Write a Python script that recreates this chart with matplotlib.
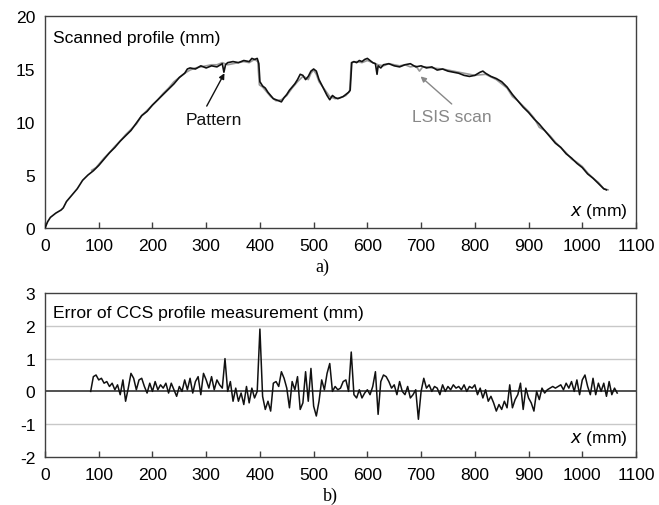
import matplotlib
matplotlib.use("Agg")
import matplotlib.pyplot as plt
import numpy as np

plt.rcParams['font.family'] = ['Liberation Sans', 'DejaVu Sans']

# Pattern profile (black)
pattern_x = [0, 5, 10, 20, 30, 34, 40, 50, 60, 70, 80, 90, 100, 110, 120, 130, 140, 150, 160, 170,
             180, 190, 200, 210, 220, 230, 240, 250, 260, 265, 270, 280, 290, 300, 310, 320, 330, 333,
             336, 340, 350, 360, 370, 380, 385, 390, 395, 398, 400, 405, 410, 415, 420, 425, 430, 435,
             440, 445, 450, 455, 460, 465, 470, 475, 480, 485, 490, 495, 500, 505, 510, 515, 520, 525,
             530, 535, 540, 545, 550, 555, 560, 565, 568, 571, 575, 580, 585, 590, 595, 600, 605, 610,
             615, 618, 620, 625, 630, 640, 650, 660, 670, 680, 690, 700, 710, 720, 730, 740, 750, 760,
             770, 780, 790, 800, 810, 815, 820, 830, 840, 850, 860, 870, 880, 890, 900, 910, 920, 930,
             940, 950, 960, 970, 980, 990, 1000, 1010, 1020, 1030, 1040, 1045]
pattern_y = [0.0, 0.6, 1.0, 1.4, 1.7, 1.9, 2.5, 3.1, 3.7, 4.5, 5.0, 5.4, 5.9, 6.5, 7.1, 7.6, 8.2, 8.7, 9.2, 9.9,
             10.6, 11.0, 11.6, 12.1, 12.6, 13.1, 13.6, 14.2, 14.6, 15.0, 15.1, 15.0, 15.3, 15.1, 15.3, 15.2, 15.5, 14.7,
             15.4, 15.6, 15.7, 15.6, 15.8, 15.7, 16.0, 15.9, 16.0, 15.5, 13.8, 13.4, 13.2, 12.8, 12.5, 12.2, 12.1, 12.0,
             11.9, 12.3, 12.6, 13.0, 13.3, 13.6, 14.0, 14.5, 14.4, 14.0, 14.3, 14.8, 15.0, 14.8, 14.0, 13.5, 13.0, 12.5,
             12.1, 12.5, 12.3, 12.2, 12.3, 12.4, 12.6, 12.8, 13.0, 15.6, 15.7, 15.6, 15.8, 15.7, 15.9, 16.0, 15.8, 15.6,
             15.5, 14.5, 15.3, 15.1, 15.4, 15.5, 15.3, 15.2, 15.4, 15.5, 15.2, 15.3, 15.1, 15.2, 14.9, 15.0, 14.8, 14.7,
             14.6, 14.4, 14.3, 14.4, 14.7, 14.8, 14.6, 14.3, 14.1, 13.8, 13.3, 12.6, 12.0, 11.4, 10.9, 10.3, 9.8, 9.2,
             8.6, 8.0, 7.6, 7.0, 6.6, 6.1, 5.7, 5.1, 4.7, 4.2, 3.7, 3.6]

# LSIS scan (grey)
lsis_x = [87, 95, 100, 110, 120, 130, 140, 150, 160, 170, 180, 190, 200, 210, 220, 230, 240, 250, 260, 270,
          280, 290, 300, 310, 320, 330, 340, 350, 360, 370, 380, 390, 396, 399, 405, 410, 420, 430, 440, 450,
          460, 470, 480, 485, 490, 495, 500, 505, 510, 520, 530, 540, 550, 560, 567, 570, 580, 590, 600, 610,
          620, 630, 640, 650, 660, 670, 680, 690, 697, 703, 710, 720, 740, 760, 780, 800, 820, 840, 860, 870,
          880, 890, 900, 910, 920, 930, 940, 950, 960, 970, 980, 990, 1000, 1010, 1020, 1030, 1040, 1048]
lsis_y = [5.45, 5.7, 6.0, 6.6, 7.1, 7.7, 8.2, 8.8, 9.3, 9.8, 10.6, 11.1, 11.6, 12.1, 12.7, 13.2, 13.8, 14.2, 14.6, 14.9,
          15.1, 15.2, 15.3, 15.4, 15.4, 15.6, 15.4, 15.5, 15.6, 15.7, 15.6, 15.9, 15.7, 13.5, 13.3, 13.0, 12.4, 12.0, 12.1, 12.5,
          13.2, 13.8, 14.3, 14.2, 14.0, 14.6, 14.9, 14.5, 13.8, 13.1, 12.4, 12.2, 12.3, 12.5, 12.9, 15.6, 15.7, 15.6, 15.8, 15.6,
          15.4, 15.3, 15.5, 15.4, 15.3, 15.4, 15.2, 15.3, 14.8, 15.2, 15.2, 15.1, 15.0, 14.8, 14.6, 14.4, 14.5, 14.0, 13.2, 12.4,
          12.0, 11.5, 11.0, 10.4, 9.5, 9.2, 8.7, 8.1, 7.6, 7.1, 6.5, 6.2, 5.8, 5.2, 4.7, 4.3, 3.7, 3.6]

# Error of CCS profile measurement (every 5 mm from 85 to 1065)
error_x = list(range(85, 1066, 5))
error_y = [0.0, 0.45, 0.5, 0.35, 0.4, 0.25, 0.3, 0.15, 0.25, 0.05,
           0.2, -0.1, 0.35, -0.3, 0.1, 0.55, 0.4, 0.05, 0.35, 0.4,
           0.15, -0.05, 0.25, 0.0, 0.3, 0.05, 0.2, 0.1, 0.25, -0.05,
           0.25, 0.05, -0.15, 0.15, 0.0, 0.35, 0.05, 0.4, -0.05, 0.3,
           0.45, -0.1, 0.55, 0.35, 0.1, 0.45, 0.05, 0.35, 0.2, 0.1,
           1.0, 0.0, 0.3, -0.3, 0.1, -0.3, -0.05, -0.4, 0.15, -0.35,
           0.1, -0.2, 0.0, 1.9, -0.15, -0.55, -0.3, -0.6, 0.25, 0.3,
           0.15, 0.6, 0.4, 0.1, -0.5, 0.3, 0.05, 0.45, -0.55, -0.35,
           0.6, -0.3, 0.7, -0.45, -0.75, -0.3, 0.35, 0.05, 0.55, 0.85,
           0.0, 0.15, 0.05, 0.1, 0.3, 0.35, 0.0, 1.2, -0.1, -0.2,
           0.05, -0.2, -0.05, 0.05, -0.1, 0.15, 0.6, -0.7, 0.3, 0.5,
           0.45, 0.3, 0.1, 0.2, -0.1, 0.3, 0.0, -0.1, 0.15, -0.2,
           -0.1, 0.05, -0.85, 0.0, 0.4, 0.1, 0.2, 0.0, 0.15, 0.1,
           -0.1, 0.2, 0.0, 0.15, 0.05, 0.2, 0.1, 0.15, 0.05, 0.2,
           0.0, 0.15, 0.1, 0.2, -0.1, 0.1, -0.2, 0.05, -0.3, -0.15,
           -0.35, -0.6, -0.4, -0.55, -0.3, -0.5, 0.2, -0.5, -0.25, -0.1,
           0.25, -0.55, 0.1, -0.2, -0.35, -0.6, 0.0, -0.25, 0.1, -0.05,
           0.05, 0.1, 0.15, 0.1, 0.15, 0.2, 0.05, 0.25, 0.1, 0.3,
           0.0, 0.35, -0.1, 0.35, 0.5, 0.15, -0.1, 0.4, -0.1, 0.25,
           0.0, 0.25, -0.15, 0.3, -0.1, 0.1, -0.05]

x_ticks = list(range(0, 1101, 100))
top_y_ticks = [0, 5, 10, 15, 20]
bot_y_ticks = [-2, -1, 0, 1, 2, 3]

W, H = 659, 506
fig = plt.figure(figsize=(W / 100, H / 100), dpi=100)

def ax_rect(l, t, r, b):
    return [l / W, 1 - b / H, (r - l) / W, (b - t) / H]

ax1 = fig.add_axes(ax_rect(45, 17, 636, 229))
ax2 = fig.add_axes(ax_rect(45, 294, 636, 458))

fs = 12.6
frame_col = '#404040'
for ax in (ax1, ax2):
    for s in ax.spines.values():
        s.set_color(frame_col)
        s.set_linewidth(1.0)
    ax.set_xlim(0, 1100)
    ax.set_xticks(x_ticks)
    ax.tick_params(axis='x', direction='in', length=4, width=1, color=frame_col,
                   labelsize=fs, pad=7)
    ax.tick_params(axis='y', length=0, labelsize=fs, pad=7)

# Top panel
ax1.plot(pattern_x, pattern_y, color='#111111', lw=1.2, zorder=3)
ax1.plot(lsis_x, lsis_y, color='#999999', lw=1.2, zorder=2)
ax1.set_ylim(0, 20)
ax1.set_yticks(top_y_ticks)
ax1.text(0.014, 0.935, 'Scanned profile (mm)', transform=ax1.transAxes, fontsize=fs,
         ha='left', va='top')
ax1.text(0.985, 0.04, r'$x$ (mm)', transform=ax1.transAxes, fontsize=fs, ha='right', va='bottom')

ax1.text(315, 10.2, 'Pattern', fontsize=fs, ha='center', va='center', color='#111111')
ax1.annotate('', xy=(334, 14.6), xytext=(301, 11.5),
             arrowprops=dict(arrowstyle='-|>', color='#111111', lw=1.0, mutation_scale=8,
                             shrinkA=0, shrinkB=0))
ax1.text(757, 10.5, 'LSIS scan', fontsize=fs, ha='center', va='center', color='#888888')
ax1.annotate('', xy=(699, 14.3), xytext=(757, 11.7),
             arrowprops=dict(arrowstyle='-|>', color='#888888', lw=1.0, mutation_scale=8,
                             shrinkA=0, shrinkB=0))

# Bottom panel
ax2.set_ylim(-2, 3)
ax2.set_yticks(bot_y_ticks)
ax2.set_yticklabels([str(v) for v in bot_y_ticks])
for g in (-1, 1, 2):
    ax2.axhline(g, color='#c8c8c8', lw=1.0, zorder=1)
ax2.axhline(0, color='#222222', lw=1.1, zorder=2)
ax2.plot(error_x, error_y, color='#111111', lw=1.1, zorder=3)
ax2.text(0.014, 0.925, 'Error of CCS profile measurement (mm)', transform=ax2.transAxes,
         fontsize=fs, ha='left', va='top')
ax2.text(0.985, 0.06, r'$x$ (mm)', transform=ax2.transAxes, fontsize=fs, ha='right', va='bottom')

fig.text(322 / W, 1 - 267 / H, 'a)', fontsize=13, family='Liberation Serif', ha='center', va='center')
fig.text(330 / W, 1 - 496 / H, 'b)', fontsize=13, family='Liberation Serif', ha='center', va='center')

fig.savefig('out.png', dpi=100)
